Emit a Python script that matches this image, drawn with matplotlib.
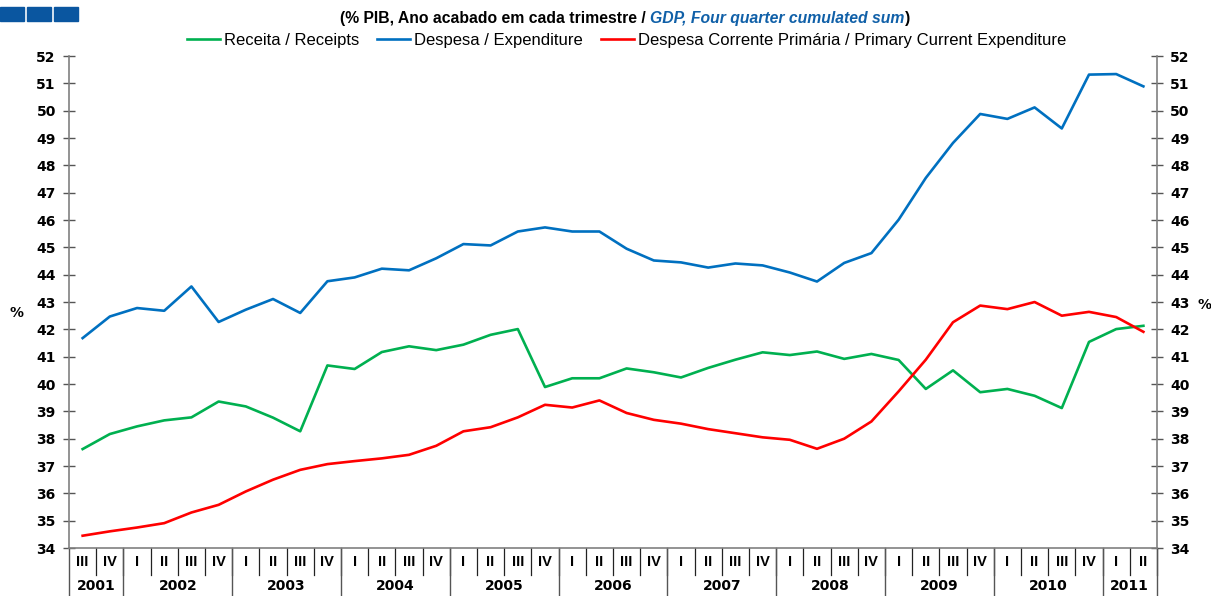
import numpy as np
import matplotlib.pyplot as plt
import matplotlib.transforms as mtransforms
from matplotlib.patches import Rectangle

plt.rcParams['font.family'] = ['Liberation Sans', 'DejaVu Sans']

# quarters from 2001 Q3 to 2011 Q2
quarters = ['III', 'IV'] + ['I', 'II', 'III', 'IV'] * 9 + ['I', 'II']
years = ['2001', '2002', '2003', '2004', '2005', '2006', '2007', '2008', '2009', '2010', '2011']
year_counts = [2, 4, 4, 4, 4, 4, 4, 4, 4, 4, 2]

# % of GDP, four-quarter cumulated sum
receita = [37.62, 38.17, 38.45, 38.67, 38.78, 39.36, 39.18, 38.77, 38.27, 40.68,
           40.55, 41.17, 41.38, 41.24, 41.44, 41.80, 42.01, 39.89, 40.21, 40.21,
           40.57, 40.43, 40.24, 40.59, 40.89, 41.16, 41.06, 41.19, 40.92, 41.10,
           40.88, 39.82, 40.50, 39.70, 39.82, 39.57, 39.12, 41.54, 42.01, 42.13]
despesa = [41.68, 42.47, 42.78, 42.68, 43.57, 42.27, 42.72, 43.11, 42.60, 43.76,
           43.90, 44.22, 44.16, 44.60, 45.12, 45.07, 45.58, 45.73, 45.58, 45.58,
           44.95, 44.52, 44.45, 44.26, 44.41, 44.34, 44.08, 43.75, 44.43, 44.79,
           46.01, 47.54, 48.82, 49.88, 49.70, 50.12, 49.35, 51.32, 51.34, 50.89]
corrente = [34.45, 34.61, 34.75, 34.91, 35.30, 35.58, 36.07, 36.50, 36.86, 37.07,
            37.18, 37.28, 37.41, 37.74, 38.27, 38.42, 38.78, 39.24, 39.14, 39.40,
            38.94, 38.69, 38.55, 38.35, 38.20, 38.05, 37.96, 37.63, 38.00, 38.63,
            39.73, 40.89, 42.26, 42.87, 42.74, 43.00, 42.50, 42.64, 42.45, 41.91]

x = np.arange(len(quarters))

fig = plt.figure(figsize=(12.11, 5.96), dpi=100)
ax = fig.add_axes([0.057, 0.0805, 0.8984, 0.8255])

ax.plot(x, receita, color='#00b050', lw=1.9, label='Receita / Receipts')
ax.plot(x, despesa, color='#0070c0', lw=1.9, label='Despesa / Expenditure')
ax.plot(x, corrente, color='#ff0000', lw=1.9,
        label='Despesa Corrente Primária / Primary Current Expenditure')

ax.set_xlim(-0.5, len(quarters) - 0.5)
ax.set_ylim(34, 52)
ax.set_yticks(np.arange(34, 53, 1))
ax.set_xticks([])
ax.tick_params(axis='y', direction='inout', length=9, width=1, color='#555555',
               labelsize=10, pad=5, left=True, right=True,
               labelleft=True, labelright=True)
for lab in ax.get_yticklabels():
    lab.set_fontweight('bold')
    lab.set_family('DejaVu Sans')

ax.spines['top'].set_visible(False)
for s in ['left', 'right', 'bottom']:
    ax.spines[s].set_color('#808080')
    ax.spines[s].set_linewidth(1.2)

# category axis: quarters row and years row below the plot
trans = mtransforms.blended_transform_factory(ax.transData, ax.transAxes)
q_bottom = -0.055
for i, q in enumerate(quarters):
    ax.text(i, -0.0285, q, transform=trans, ha='center', va='center',
            fontsize=10.5, fontweight='bold')
    ax.plot([i + 0.5, i + 0.5], [0, q_bottom], transform=trans, color='#222222',
            lw=0.9, clip_on=False)

edges = np.concatenate([[0], np.cumsum(year_counts)]) - 0.5
for k, yr in enumerate(years):
    ax.text((edges[k] + edges[k + 1]) / 2, -0.078, yr, transform=trans,
            ha='center', va='center', fontsize=10, fontweight='bold',
            family='DejaVu Sans')
for e in edges:
    ax.plot([e, e], [0, -0.13], transform=trans, color='#555555', lw=1.0,
            clip_on=False)

fig.text(17 / 1211, 1 - 313 / 596, '%', ha='center', va='center',
         fontsize=10, fontweight='bold', family='DejaVu Sans')
fig.text(1205 / 1211, 1 - 305 / 596, '%', ha='center', va='center',
         fontsize=10, fontweight='bold', family='DejaVu Sans')

# header: blue blocks and subtitle
for x0 in [0, 27, 54]:
    fig.patches.append(Rectangle((x0 / 1211, 1 - 21 / 596), 24 / 1211, 14 / 596,
                                 transform=fig.transFigure, color='#0a56a0'))

t1 = fig.text(340 / 1211, 1 - 18 / 596, '(% PIB, Ano acabado em cada trimestre / ',
              ha='left', va='center', fontsize=11.3, fontweight='bold')
t2 = ax.annotate('GDP, Four quarter cumulated sum', xy=(1, 0), xycoords=t1,
                 ha='left', va='bottom', fontsize=11.3, fontweight='bold',
                 style='italic', color='#1060a8')
ax.annotate(')', xy=(1, 0), xycoords=t2, ha='left', va='bottom',
            fontsize=11.3, fontweight='bold')

fig.legend(loc='center', bbox_to_anchor=(0.5173, 1 - 40 / 596), ncol=3,
           frameon=False, fontsize=12, handlelength=2.0, handletextpad=0.25,
           columnspacing=1.05)

fig.savefig('out.png', dpi=100)
